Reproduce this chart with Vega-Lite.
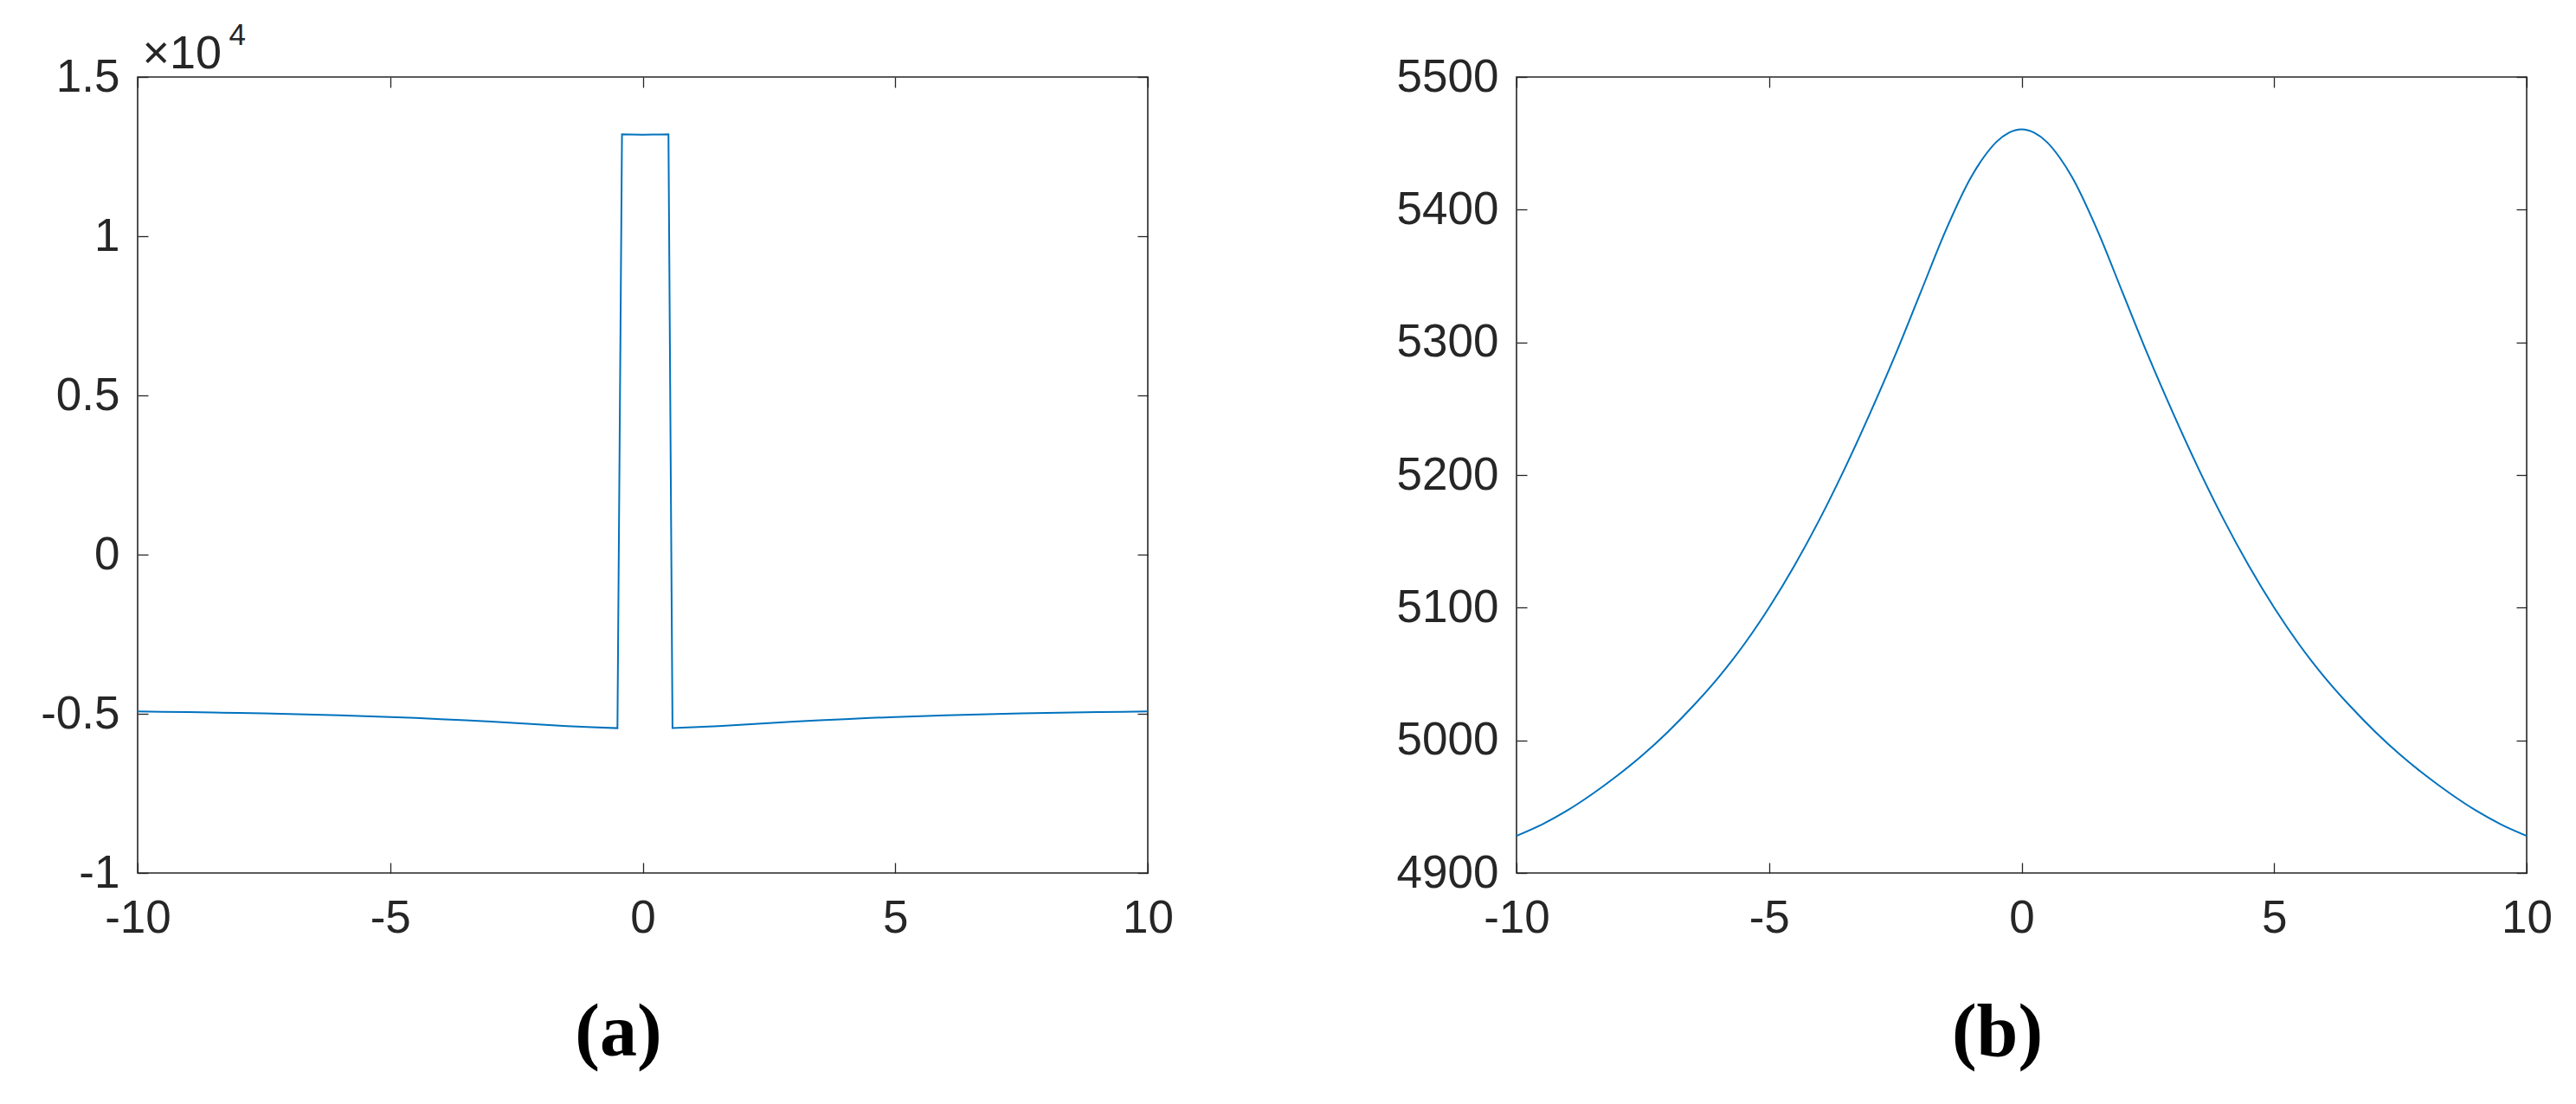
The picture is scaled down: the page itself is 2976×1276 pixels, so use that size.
{
  "$schema": "https://vega.github.io/schema/vega-lite/v6.json",
  "autosize": {"type": "pad"},
  "padding": {"left": 45, "top": 22, "right": 30, "bottom": 20},
  "background": "white",
  "bounds": "flush",
  "spacing": 426,
  "config": {
    "view": {"stroke": "#262626", "strokeWidth": 1.6},
    "axis": {
      "grid": false,
      "domain": false,
      "ticks": true,
      "tickSize": -12,
      "tickColor": "#262626",
      "tickWidth": 1.3,
      "labelFont": "Liberation Sans",
      "labelFontSize": 53,
      "labelColor": "#262626",
      "labelFlush": false,
      "labelOverlap": false,
      "labelBound": false,
      "titleFont": "Liberation Sans",
      "titleFontWeight": "normal",
      "titleColor": "#262626"
    }
  },
  "datasets": {
    "a": [
      {"x": -10, "y": -4928}, {"x": -9.5, "y": -4936.5}, {"x": -9, "y": -4947}, {"x": -8.5, "y": -4959.5},
      {"x": -8, "y": -4973.5}, {"x": -7.5, "y": -4989}, {"x": -7, "y": -5006.5}, {"x": -6.5, "y": -5026},
      {"x": -6, "y": -5047.5}, {"x": -5.5, "y": -5072}, {"x": -5, "y": -5100}, {"x": -4.5, "y": -5131.5},
      {"x": -4, "y": -5166.5}, {"x": -3.5, "y": -5205}, {"x": -3, "y": -5246.5}, {"x": -2.5, "y": -5290.5},
      {"x": -2, "y": -5337.5}, {"x": -1.5, "y": -5384.5}, {"x": -1, "y": -5424.5}, {"x": -0.5, "y": -5451},
      {"x": -0.41, "y": 13200}, {"x": -0.2, "y": 13190}, {"x": 0, "y": 13185}, {"x": 0.2, "y": 13190},
      {"x": 0.51, "y": 13200}, {"x": 0.59, "y": -5448}, {"x": 1, "y": -5424.5}, {"x": 1.5, "y": -5384.5},
      {"x": 2, "y": -5337.5}, {"x": 2.5, "y": -5290.5}, {"x": 3, "y": -5246.5}, {"x": 3.5, "y": -5205},
      {"x": 4, "y": -5166.5}, {"x": 4.5, "y": -5131.5}, {"x": 5, "y": -5100}, {"x": 5.5, "y": -5072},
      {"x": 6, "y": -5047.5}, {"x": 6.5, "y": -5026}, {"x": 7, "y": -5006.5}, {"x": 7.5, "y": -4989},
      {"x": 8, "y": -4973.5}, {"x": 8.5, "y": -4959.5}, {"x": 9, "y": -4947}, {"x": 9.5, "y": -4936.5},
      {"x": 10, "y": -4928}
    ],
    "b": [
      {"x": -10, "y": 4928}, {"x": -9.5, "y": 4936.5}, {"x": -9, "y": 4947}, {"x": -8.5, "y": 4959.5},
      {"x": -8, "y": 4973.5}, {"x": -7.5, "y": 4989}, {"x": -7, "y": 5006.5}, {"x": -6.5, "y": 5026},
      {"x": -6, "y": 5047.5}, {"x": -5.5, "y": 5072}, {"x": -5, "y": 5100}, {"x": -4.5, "y": 5131.5},
      {"x": -4, "y": 5166.5}, {"x": -3.5, "y": 5205}, {"x": -3, "y": 5246.5}, {"x": -2.5, "y": 5290.5},
      {"x": -2, "y": 5337.5}, {"x": -1.5, "y": 5384.5}, {"x": -1, "y": 5424.5}, {"x": -0.75, "y": 5439.5},
      {"x": -0.5, "y": 5451}, {"x": -0.25, "y": 5458}, {"x": 0, "y": 5460.5}, {"x": 0.25, "y": 5458},
      {"x": 0.5, "y": 5451}, {"x": 0.75, "y": 5439.5}, {"x": 1, "y": 5424.5}, {"x": 1.5, "y": 5384.5},
      {"x": 2, "y": 5337.5}, {"x": 2.5, "y": 5290.5}, {"x": 3, "y": 5246.5}, {"x": 3.5, "y": 5205},
      {"x": 4, "y": 5166.5}, {"x": 4.5, "y": 5131.5}, {"x": 5, "y": 5100}, {"x": 5.5, "y": 5072},
      {"x": 6, "y": 5047.5}, {"x": 6.5, "y": 5026}, {"x": 7, "y": 5006.5}, {"x": 7.5, "y": 4989},
      {"x": 8, "y": 4973.5}, {"x": 8.5, "y": 4959.5}, {"x": 9, "y": 4947}, {"x": 9.5, "y": 4936.5},
      {"x": 10, "y": 4928}
    ]
  },
  "hconcat": [
    {
      "width": 1167,
      "height": 920,
      "data": {"name": "a"},
      "layer": [
        {
          "mark": {"type": "line", "color": "#0072BD", "strokeWidth": 2},
          "encoding": {
            "x": {"field": "x", "type": "quantitative",
              "scale": {"domain": [-10, 10], "nice": false, "zero": false},
              "axis": {"orient": "bottom", "values": [-10, -5, 0, 5, 10], "labelExpr": "'' + datum.value",
                "labelPadding": 38, "title": "(a)", "titleFont": "Liberation Serif", "titleFontWeight": "bold",
                "titleFontSize": 86, "titleColor": "black", "titleX": 555, "titleY": 210,
                "titleBaseline": "alphabetic", "titleAlign": "center", "titleAngle": 0}},
            "y": {"field": "y", "type": "quantitative",
              "scale": {"domain": [-10000, 15000], "nice": false, "zero": false},
              "axis": {"orient": "left", "values": [-10000, -5000, 0, 5000, 10000, 15000],
                "labelExpr": "'' + (datum.value / 10000)", "labelPadding": 33,
                "title": "×10", "titleAngle": 0, "titleX": 5, "titleY": -11, "titleAlign": "left",
                "titleBaseline": "alphabetic", "titleFontSize": 54}}
          }
        },
        {
          "mark": {"type": "line", "strokeOpacity": 0},
          "encoding": {
            "x": {"field": "x", "type": "quantitative",
              "scale": {"domain": [-10, 10], "nice": false, "zero": false},
              "axis": {"orient": "top", "values": [-10, -5, 0, 5, 10], "labels": false,
                "title": "4", "titleX": 105, "titleY": -38, "titleAlign": "left",
                "titleBaseline": "alphabetic", "titleFontSize": 35, "titleAngle": 0}},
            "y": {"field": "y", "type": "quantitative",
              "scale": {"domain": [-10000, 15000], "nice": false, "zero": false},
              "axis": {"orient": "right", "values": [-10000, -5000, 0, 5000, 10000, 15000],
                "labels": false, "title": null}}
          }
        }
      ],
      "resolve": {"axis": {"x": "independent", "y": "independent"}}
    },
    {
      "width": 1167,
      "height": 920,
      "data": {"name": "b"},
      "layer": [
        {
          "mark": {"type": "line", "color": "#0072BD", "strokeWidth": 2, "interpolate": "monotone"},
          "encoding": {
            "x": {"field": "x", "type": "quantitative",
              "scale": {"domain": [-10, 10], "nice": false, "zero": false},
              "axis": {"orient": "bottom", "values": [-10, -5, 0, 5, 10], "labelExpr": "'' + datum.value",
                "labelPadding": 38, "title": "(b)", "titleFont": "Liberation Serif", "titleFontWeight": "bold",
                "titleFontSize": 86, "titleColor": "black", "titleX": 555, "titleY": 210,
                "titleBaseline": "alphabetic", "titleAlign": "center", "titleAngle": 0}},
            "y": {"field": "y", "type": "quantitative",
              "scale": {"domain": [4900, 5500], "nice": false, "zero": false},
              "axis": {"orient": "left", "values": [4900, 5000, 5100, 5200, 5300, 5400, 5500],
                "labelExpr": "'' + datum.value", "labelPadding": 33, "title": null}}
          }
        },
        {
          "mark": {"type": "line", "strokeOpacity": 0},
          "encoding": {
            "x": {"field": "x", "type": "quantitative",
              "scale": {"domain": [-10, 10], "nice": false, "zero": false},
              "axis": {"orient": "top", "values": [-10, -5, 0, 5, 10], "labels": false, "title": null}},
            "y": {"field": "y", "type": "quantitative",
              "scale": {"domain": [4900, 5500], "nice": false, "zero": false},
              "axis": {"orient": "right", "values": [4900, 5000, 5100, 5200, 5300, 5400, 5500],
                "labels": false, "title": null}}
          }
        }
      ],
      "resolve": {"axis": {"x": "independent", "y": "independent"}}
    }
  ]
}
